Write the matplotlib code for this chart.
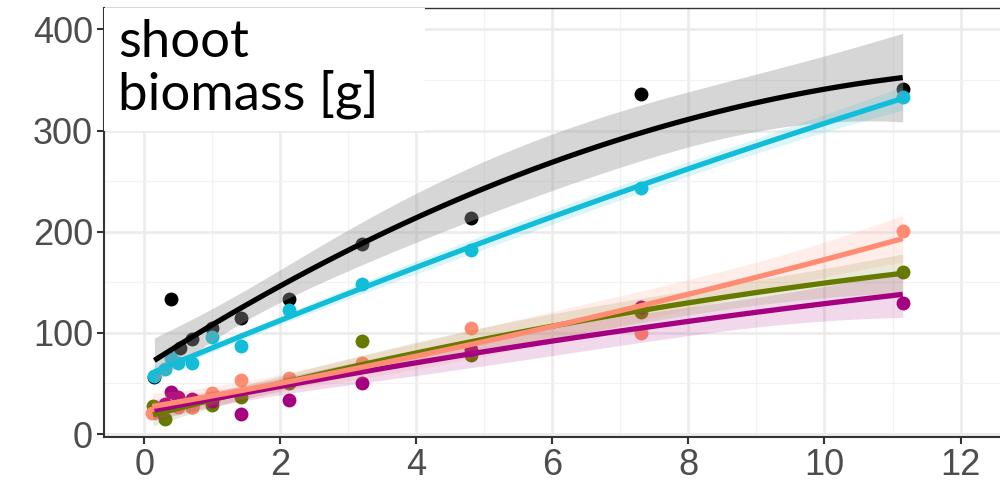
import numpy as np
import matplotlib
matplotlib.use("Agg")
import matplotlib.pyplot as plt
from matplotlib.patches import Rectangle

# data (x = time, y = shoot biomass in g)
x_black = [0.15, 0.4, 0.53, 0.7, 1.0, 1.43, 2.13, 3.2, 4.8, 7.3, 11.15]
y_black = [56, 133, 85, 94, 105, 115, 133, 188, 214, 336, 341]

x_cyan = [0.15, 0.3, 0.4, 0.5, 0.7, 1.0, 1.43, 2.13, 3.2, 4.8, 7.3, 11.15]
y_cyan = [57, 64, 75, 70, 70, 96, 87, 123, 148, 182, 243, 333]

x_salmon = [0.12, 0.5, 0.7, 1.0, 1.43, 2.13, 3.2, 4.8, 7.3, 11.15]
y_salmon = [21, 27, 27, 41, 53, 55, 70, 105, 100, 201]

x_olive = [0.13, 0.3, 0.7, 1.0, 1.43, 2.13, 3.2, 4.8, 7.3, 11.15]
y_olive = [28, 15, 27, 29, 37, 50, 92, 78, 121, 160]

x_magenta = [0.15, 0.3, 0.4, 0.5, 0.7, 1.0, 1.43, 2.13, 3.2, 4.8, 7.3, 11.15]
y_magenta = [22, 30, 42, 37, 35, 33, 20, 34, 50, 83, 126, 130]

groups = [
    ("black", x_black, y_black, "#000000", "#999999", 0.4),
    ("cyan", x_cyan, y_cyan, "#12BDDA", "#12BDDA", 0.15),
    ("olive", x_olive, y_olive, "#667A00", "#667A00", 0.15),
    ("magenta", x_magenta, y_magenta, "#A5007F", "#A5007F", 0.15),
    ("salmon", x_salmon, y_salmon, "#FF8C73", "#FF8C73", 0.15),
]

x_ticks = [0, 2, 4, 6, 8, 10, 12]
y_ticks = [0, 100, 200, 300, 400]


def quad_smooth(x, y, n=100, t=1.75):
    # quadratic regression with confidence band (like geom_smooth poly 2)
    x = np.asarray(x, float)
    y = np.asarray(y, float)
    X = np.column_stack([np.ones_like(x), x, x**2])
    beta, *_ = np.linalg.lstsq(X, y, rcond=None)
    resid = y - X @ beta
    s2 = resid @ resid / (len(x) - 3)
    cov = s2 * np.linalg.inv(X.T @ X)
    xg = np.linspace(x.min(), x.max(), n)
    G = np.column_stack([np.ones_like(xg), xg, xg**2])
    fit = G @ beta
    se = np.sqrt(np.einsum("ij,jk,ik->i", G, cov, G))
    return xg, fit, fit - t * se, fit + t * se


fig = plt.figure(figsize=(10, 4.9), dpi=100)
ax = fig.add_axes([0.104, 0.108, 0.896, 0.8755])

# points first, smoothers on top
for name, x, y, col, fill, a in groups:
    ax.scatter(x, y, s=100, color=col, zorder=3, linewidths=0)

for name, x, y, col, fill, a in groups:
    xg, fit, lo, hi = quad_smooth(x, y)
    ax.fill_between(xg, lo, hi, color=fill, alpha=a, linewidth=0, zorder=4)
    ax.plot(xg, fit, color=col, lw=3.8, zorder=5, solid_capstyle="butt")

ax.set_xlim(-0.59, 12.58)
ax.set_ylim(-3, 421)
ax.set_xticks(x_ticks)
ax.set_yticks(y_ticks)
ax.set_xticks(np.arange(1, 13, 2), minor=True)
ax.set_yticks([50, 150, 250, 350], minor=True)
ax.grid(which="major", color="#EBEBEB", lw=1.8, zorder=0)
ax.grid(which="minor", color="#F2F2F2", lw=0.9, zorder=0)
ax.set_axisbelow(True)

ax.tick_params(which="major", length=5, width=1.5, color="#333333",
               labelsize=26, labelcolor="#4D4D4D", pad=3)
ax.tick_params(which="minor", length=0)
for lab in ax.get_xticklabels() + ax.get_yticklabels():
    lab.set_fontfamily("Liberation Sans")

ax.spines["right"].set_visible(False)
ax.spines["left"].set_color("#333333")
ax.spines["left"].set_linewidth(1.5)
ax.spines["bottom"].set_color("#333333")
ax.spines["bottom"].set_linewidth(1.5)
ax.spines["top"].set_color("#333333")
ax.spines["top"].set_linewidth(1.0)

# white label box in the top-left corner
ax.add_patch(Rectangle((0, 0.713), 0.358, 0.287, transform=ax.transAxes,
                       facecolor="white", edgecolor="none", zorder=6))
ax.text(0.016, 0.975, "shoot\nbiomass [g]", transform=ax.transAxes,
        ha="left", va="top", fontsize=38, family="Lato", color="black",
        linespacing=1.1, zorder=7)

fig.savefig("out.png", dpi=100)
